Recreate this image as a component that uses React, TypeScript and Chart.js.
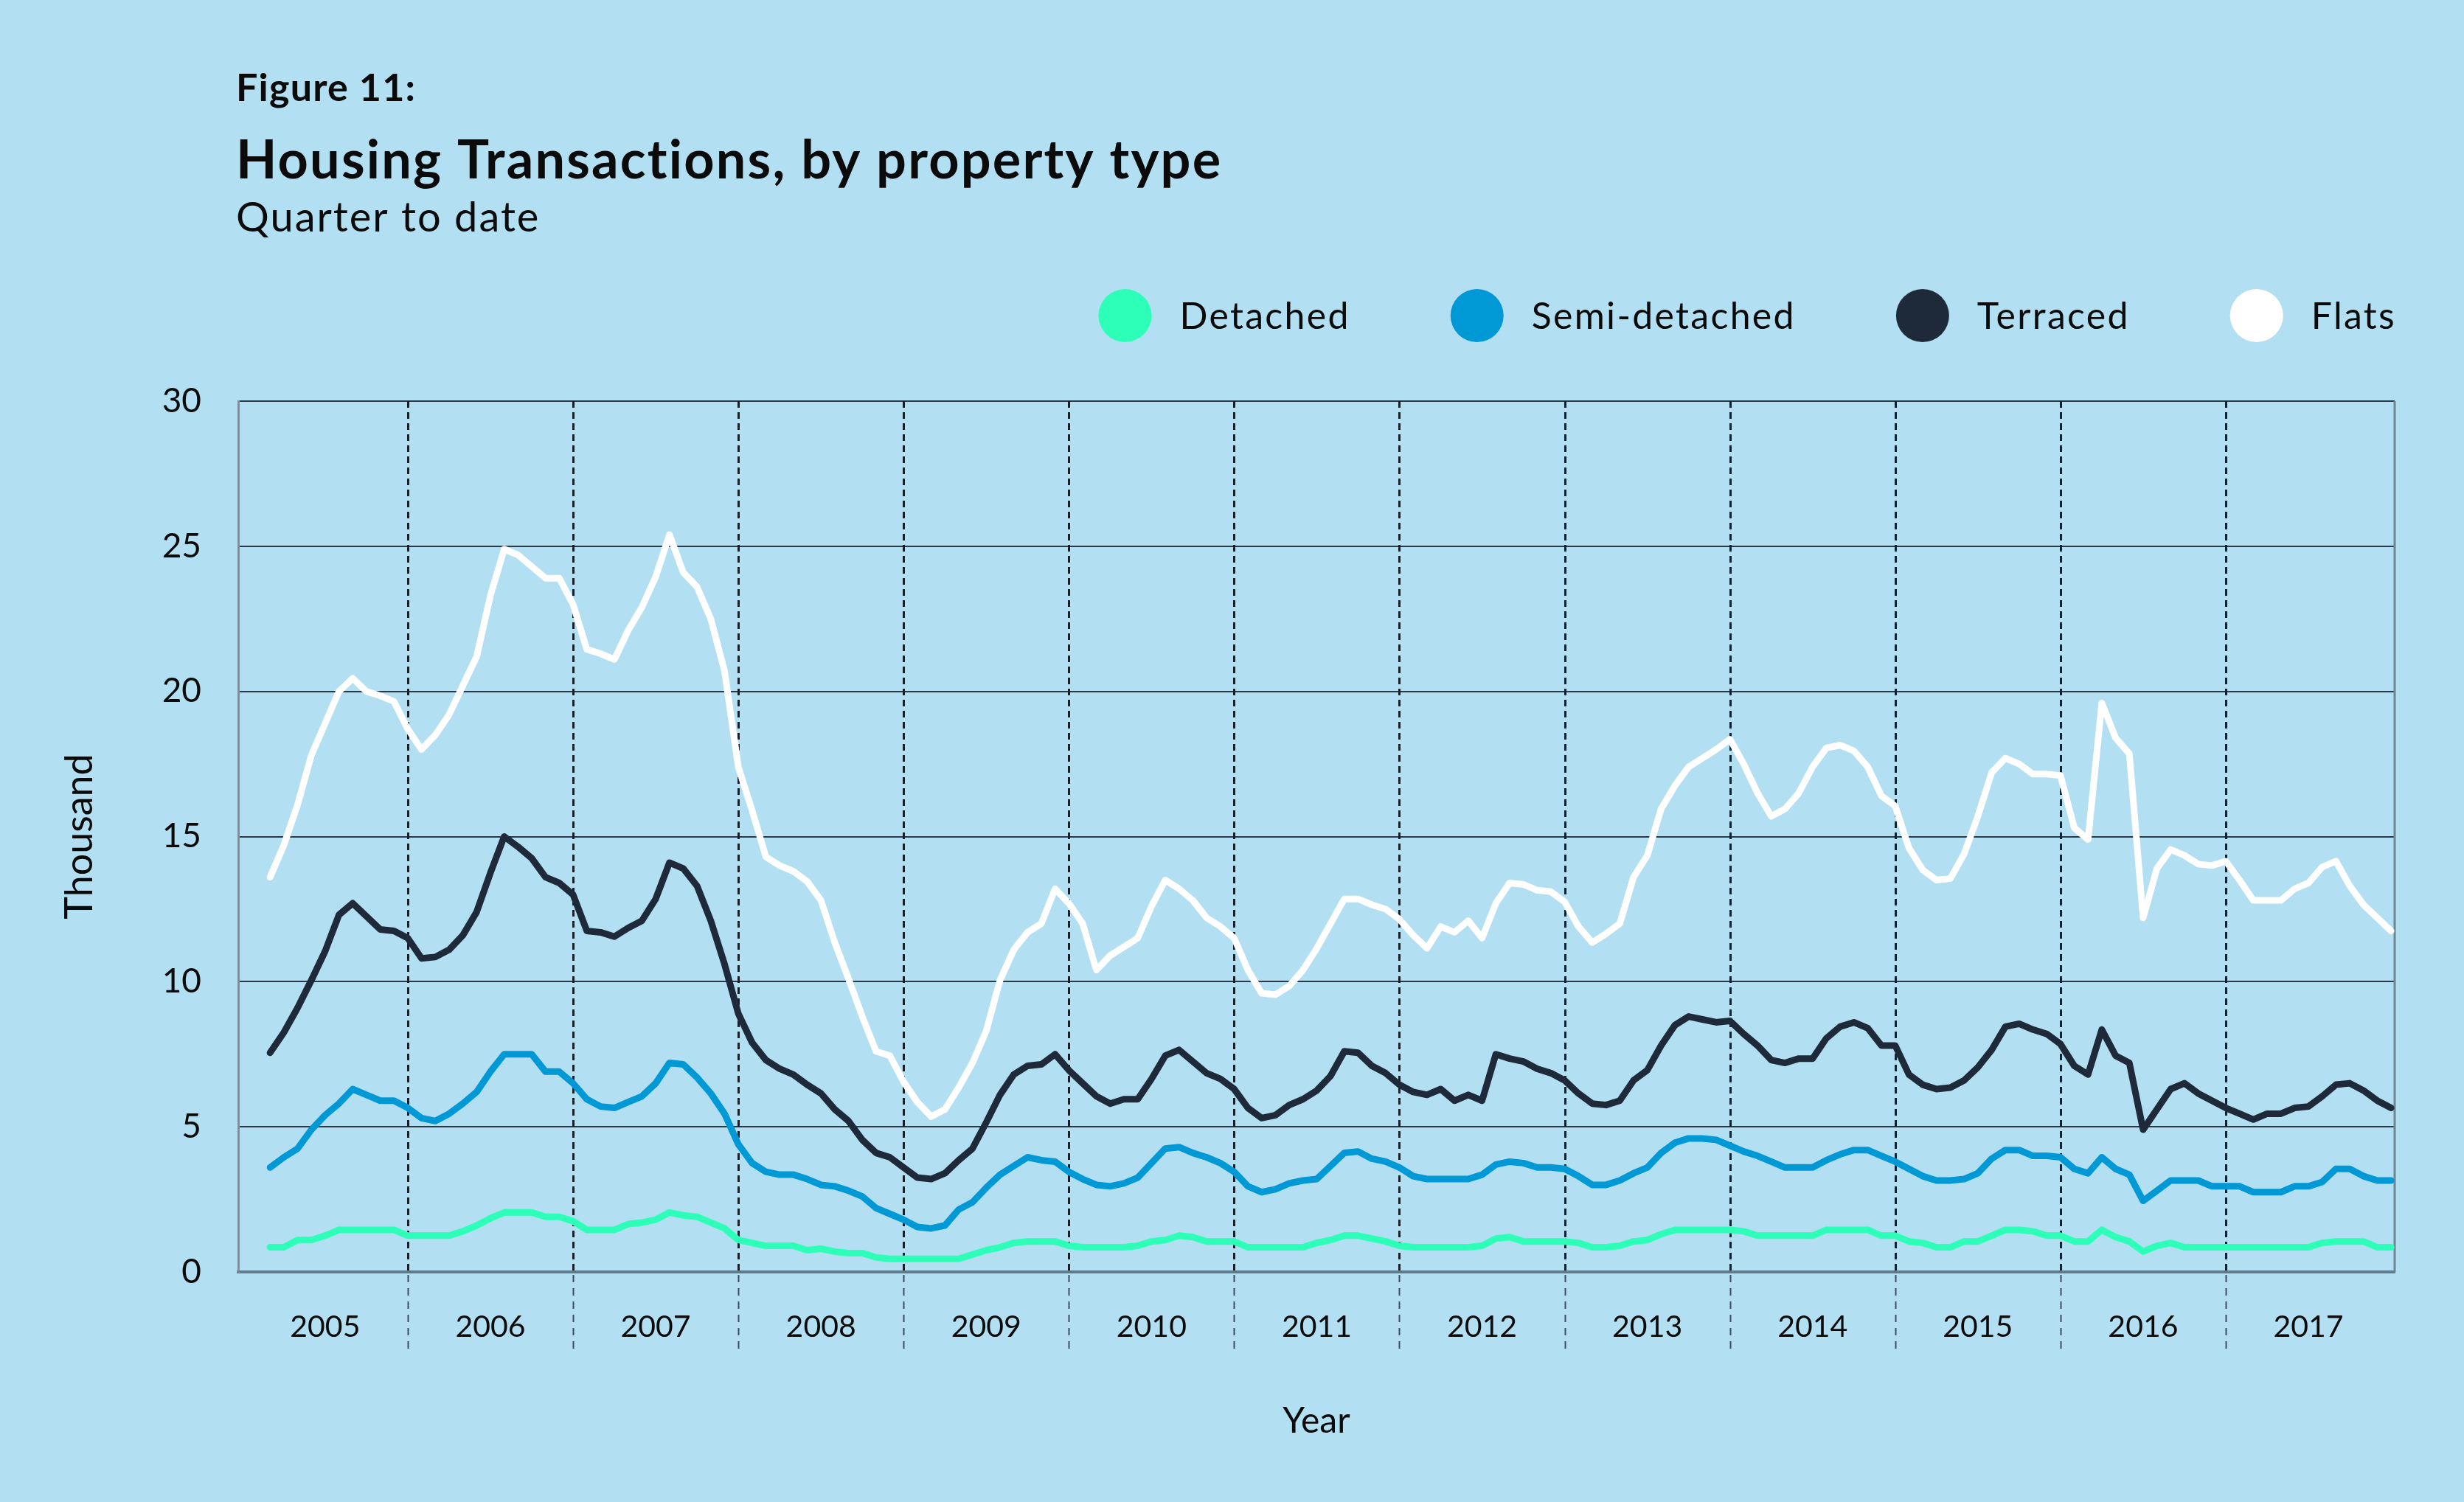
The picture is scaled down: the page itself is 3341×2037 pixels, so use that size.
import React, { useEffect, useRef } from "react";
import { Chart, registerables } from "chart.js";

Chart.register(...registerables);

// ---------- data ----------
const FIRST_MONTH = 2005 + 2 / 12; // March 2005, monthly observations
const YEARS = [2005, 2006, 2007, 2008, 2009, 2010, 2011, 2012, 2013, 2014, 2015, 2016, 2017];
const Y_MIN = 0;
const Y_MAX = 30;
const Y_STEP = 5;

const SERIES_NAMES = ["Detached", "Semi-detached", "Terraced", "Flats"];

const DETACHED = [
  0.85, 0.85, 1.1, 1.1, 1.25, 1.45, 1.45, 1.45, 1.45, 1.45,
  1.25, 1.25, 1.25, 1.25, 1.4, 1.6, 1.85, 2.05, 2.05, 2.05,
  1.9, 1.9, 1.75, 1.45, 1.45, 1.45, 1.65, 1.7, 1.8, 2.05,
  1.95, 1.9, 1.7, 1.5, 1.1, 1.0, 0.9, 0.9, 0.9, 0.75,
  0.8, 0.7, 0.65, 0.65, 0.5, 0.45, 0.45, 0.45, 0.45, 0.45,
  0.45, 0.6, 0.75, 0.85, 1.0, 1.05, 1.05,
  1.05, 0.9, 0.85, 0.85, 0.85, 0.85, 0.9, 1.05, 1.1, 1.25, 1.2, 1.05, 1.05, 1.05, 0.85, 0.85, 0.85, 0.85, 0.85, 1.0, 1.1,
  1.25, 1.25, 1.15, 1.05, 0.9, 0.85, 0.85, 0.85, 0.85, 0.85,
  0.9, 1.15, 1.2, 1.05, 1.05, 1.05, 1.05, 1.0, 0.85, 0.85,
  0.9, 1.05, 1.1, 1.3, 1.45, 1.45, 1.45,
  1.45, 1.45, 1.4, 1.25, 1.25, 1.25, 1.25, 1.25, 1.45, 1.45,
  1.45, 1.45, 1.25, 1.25, 1.05, 1.0, 0.85, 0.85, 1.05, 1.05,
  1.25, 1.45, 1.45, 1.4, 1.25, 1.25, 1.05,
  1.05, 1.45, 1.2, 1.05, 0.7, 0.9, 1.0, 0.85, 0.85, 0.85,
  0.85, 0.85, 0.85, 0.85, 0.85, 0.85, 0.85, 1.0, 1.05, 1.05, 1.05, 0.85, 0.85,
];

const SEMI_DETACHED = [
  3.6, 3.95, 4.25, 4.9, 5.4, 5.8, 6.3, 6.1, 5.9, 5.9,
  5.65, 5.3, 5.2, 5.45, 5.8, 6.2, 6.9, 7.5, 7.5, 7.5,
  6.9, 6.9, 6.5, 5.95, 5.7, 5.65, 5.85, 6.05, 6.5, 7.2,
  7.15, 6.7, 6.15, 5.45, 4.4, 3.75, 3.45, 3.35, 3.35, 3.2,
  3.0, 2.95, 2.8, 2.6, 2.2, 2.0, 1.8, 1.55, 1.5, 1.6,
  2.15, 2.4, 2.9, 3.35, 3.65, 3.95, 3.85,
  3.8, 3.45, 3.2, 3.0, 2.95, 3.05, 3.25, 3.75, 4.25, 4.3, 4.1, 3.95, 3.75, 3.45, 2.95, 2.75, 2.85, 3.05, 3.15, 3.2, 3.65,
  4.1, 4.15, 3.9, 3.8, 3.6, 3.3, 3.2, 3.2, 3.2, 3.2,
  3.35, 3.7, 3.8, 3.75, 3.6, 3.6, 3.55, 3.3, 3.0, 3.0,
  3.15, 3.4, 3.6, 4.1, 4.45, 4.6, 4.6,
  4.55, 4.35, 4.15, 4.0, 3.8, 3.6, 3.6, 3.6, 3.85, 4.05,
  4.2, 4.2, 4.0, 3.8, 3.55, 3.3, 3.15, 3.15, 3.2, 3.4,
  3.9, 4.2, 4.2, 4.0, 4.0, 3.95, 3.55,
  3.4, 3.95, 3.55, 3.35, 2.45, 2.8, 3.15, 3.15, 3.15, 2.95,
  2.95, 2.95, 2.75, 2.75, 2.75, 2.95, 2.95, 3.1, 3.55, 3.55, 3.3, 3.15, 3.15,
];

const TERRACED = [
  7.55, 8.25, 9.1, 10.05, 11.05, 12.3, 12.7, 12.25, 11.8, 11.75,
  11.5, 10.8, 10.85, 11.1, 11.6, 12.4, 13.75, 15.0, 14.65, 14.25,
  13.6, 13.4, 13.0, 11.75, 11.7, 11.55, 11.85, 12.1, 12.85, 14.1,
  13.9, 13.3, 12.1, 10.6, 8.9, 7.9, 7.3, 7.0, 6.8, 6.45,
  6.15, 5.6, 5.2, 4.55, 4.1, 3.95, 3.6, 3.25, 3.2, 3.4,
  3.85, 4.25, 5.15, 6.1, 6.8, 7.1, 7.15,
  7.5, 6.95, 6.5, 6.05, 5.8, 5.95, 5.95, 6.65, 7.45, 7.65, 7.25, 6.85, 6.65, 6.3, 5.65, 5.3, 5.4, 5.75, 5.95, 6.25, 6.75,
  7.6, 7.55, 7.1, 6.85, 6.45, 6.2, 6.1, 6.3, 5.9, 6.1,
  5.9, 7.5, 7.35, 7.25, 7.0, 6.85, 6.6, 6.15, 5.8, 5.75,
  5.9, 6.6, 6.95, 7.8, 8.5, 8.8, 8.7,
  8.6, 8.65, 8.2, 7.8, 7.3, 7.2, 7.35, 7.35, 8.05, 8.45,
  8.6, 8.4, 7.8, 7.8, 6.8, 6.45, 6.3, 6.35, 6.6, 7.05,
  7.65, 8.45, 8.55, 8.35, 8.2, 7.85, 7.1,
  6.8, 8.35, 7.45, 7.2, 4.9, 5.6, 6.3, 6.5, 6.15, 5.9,
  5.65, 5.45, 5.25, 5.45, 5.45, 5.65, 5.7, 6.05, 6.45, 6.5, 6.25, 5.9, 5.65,
];

const FLATS = [
  13.6, 14.7, 16.1, 17.8, 18.9, 20.0, 20.45, 20.0, 19.85, 19.65,
  18.7, 18.0, 18.5, 19.2, 20.2, 21.2, 23.3, 24.9, 24.7, 24.3,
  23.9, 23.9, 23.0, 21.45, 21.3, 21.1, 22.1, 22.9, 23.95, 25.4,
  24.1, 23.6, 22.5, 20.7, 17.4, 15.9, 14.3, 14.0, 13.8, 13.45,
  12.8, 11.35, 10.1, 8.8, 7.6, 7.45, 6.55, 5.85, 5.35, 5.6,
  6.35, 7.2, 8.3, 10.05, 11.1, 11.7, 12.0,
  13.2, 12.7, 12.0, 10.4, 10.9, 11.2, 11.5, 12.6, 13.5, 13.2, 12.8, 12.2, 11.9, 11.5, 10.4, 9.6, 9.55, 9.85, 10.4, 11.15, 12.0,
  12.85, 12.85, 12.65, 12.5, 12.15, 11.6, 11.15, 11.9, 11.7, 12.1,
  11.5, 12.7, 13.4, 13.35, 13.15, 13.1, 12.75, 11.9, 11.35, 11.65,
  12.0, 13.6, 14.35, 15.95, 16.75, 17.4, 17.7,
  18.0, 18.35, 17.5, 16.5, 15.7, 15.95, 16.5, 17.4, 18.05, 18.15,
  17.95, 17.4, 16.4, 16.05, 14.6, 13.85, 13.5, 13.55, 14.4, 15.7,
  17.2, 17.7, 17.5, 17.15, 17.15, 17.1, 15.3,
  14.9, 19.6, 18.4, 17.85, 12.2, 13.9, 14.55, 14.35, 14.05, 14.0,
  14.15, 13.5, 12.8, 12.8, 12.8, 13.2, 13.4, 13.95, 14.15, 13.3, 12.65, 12.2, 11.75,
];

const SERIES_VALUES = [DETACHED, SEMI_DETACHED, TERRACED, FLATS];

// ---------- text ----------
const FIGURE_LABEL = "Figure 11:";
const TITLE = "Housing Transactions, by property type";
const SUBTITLE = "Quarter to date";
const X_TITLE = "Year";
const Y_TITLE = "Thousand";

// ---------- styles ----------
const FONT = "Lato, 'Open Sans', sans-serif";
const BG = "#b3dff2";
const COLORS = ["#2dffb8", "#0098d5", "#1e2a3a", "#ffffff"];
const TEXT = "#0b0b0b";

function setSpacing(ctx: any, px: number) {
  if ("letterSpacing" in ctx) ctx.letterSpacing = `${px}px`;
}

const headerPlugin = {
  id: "header",
  afterDraw(chart: any) {
    const ctx = chart.ctx as CanvasRenderingContext2D;
    const area = chart.chartArea;
    ctx.save();
    ctx.fillStyle = TEXT;
    ctx.textAlign = "left";
    ctx.textBaseline = "alphabetic";
    ctx.font = `bold 52px ${FONT}`;
    setSpacing(ctx, 1.2);
    ctx.fillText(FIGURE_LABEL, 320, 137);
    ctx.font = `bold 72px ${FONT}`;
    setSpacing(ctx, 2.2);
    ctx.fillText(TITLE, 320, 242);
    ctx.font = `56px ${FONT}`;
    setSpacing(ctx, 2);
    ctx.fillText(SUBTITLE, 320, 314);

    // legend, right aligned to the plot's right edge
    ctx.font = `50px ${FONT}`;
    setSpacing(ctx, 2.3);
    ctx.textBaseline = "middle";
    const cy = 428;
    let right = area.right + 2;
    for (let k = SERIES_NAMES.length - 1; k >= 0; k--) {
      const name = SERIES_NAMES[k];
      const w = ctx.measureText(name).width;
      const tx = right - w;
      ctx.fillStyle = TEXT;
      ctx.fillText(name, tx, cy + 2);
      const cx = tx - 74;
      ctx.beginPath();
      ctx.arc(cx, cy, 36, 0, Math.PI * 2);
      ctx.fillStyle = COLORS[k];
      ctx.fill();
      right = cx - 36 - 136;
    }
    ctx.restore();
  },
};

const framePlugin = {
  id: "frame",
  beforeDatasetsDraw(chart: any) {
    const ctx = chart.ctx as CanvasRenderingContext2D;
    const area = chart.chartArea;
    const xs = chart.scales.x;
    ctx.save();
    // right border
    ctx.strokeStyle = "#6f8795";
    ctx.lineWidth = 3;
    ctx.beginPath();
    ctx.moveTo(area.right, area.top);
    ctx.lineTo(area.right, area.bottom);
    ctx.stroke();
    // dashed year separators
    ctx.strokeStyle = "#16202c";
    ctx.lineWidth = 3;
    ctx.setLineDash([9, 6]);
    for (let k = 1; k < YEARS.length; k++) {
      const px = Math.round(xs.getPixelForValue(YEARS[k])) + 0.5;
      ctx.beginPath();
      ctx.moveTo(px, area.top);
      ctx.lineTo(px, area.bottom);
      ctx.stroke();
    }
    ctx.strokeStyle = "#3c4e5c";
    ctx.lineWidth = 2;
    ctx.setLineDash([10, 8]);
    for (let k = 1; k < YEARS.length; k++) {
      const px = Math.round(xs.getPixelForValue(YEARS[k])) + 0.5;
      ctx.beginPath();
      ctx.moveTo(px, area.bottom + 4);
      ctx.lineTo(px, area.bottom + 112);
      ctx.stroke();
    }
    ctx.restore();
  },
};

export default function App() {
  const canvasRef = useRef<HTMLCanvasElement | null>(null);

  useEffect(() => {
    document.body.style.margin = "0";
    const canvas = canvasRef.current;
    if (!canvas) return;

    const datasets = SERIES_NAMES.map((name, k) => ({
      label: name,
      data: SERIES_VALUES[k].map((v, i) => ({ x: FIRST_MONTH + i / 12, y: v })),
      borderColor: COLORS[k],
      backgroundColor: COLORS[k],
      borderWidth: 9,
      pointRadius: 0,
      pointHoverRadius: 0,
      tension: 0,
      fill: false,
      borderJoinStyle: "round" as const,
      borderCapStyle: "round" as const,
    }));

    const chart = new Chart(canvas, {
      type: "line",
      data: { datasets },
      options: {
        animation: false,
        responsive: true,
        maintainAspectRatio: false,
        layout: { padding: { top: 544, right: 94, bottom: 0, left: 0 } },
        plugins: {
          legend: { display: false },
          tooltip: { enabled: false },
          title: { display: false },
        },
        scales: {
          x: {
            type: "linear",
            min: 2004.974,
            max: 2018.022,
            afterBuildTicks: (scale: any) => {
              scale.ticks = YEARS.map((y) => ({ value: y + 0.5 }));
            },
            afterFit: (scale: any) => {
              scale.height = 312;
            },
            ticks: {
              autoSkip: false,
              maxRotation: 0,
              minRotation: 0,
              padding: 50,
              color: TEXT,
              font: { family: FONT, size: 41 },
              callback: (v: any) => String(Math.floor(Number(v))),
            },
            grid: { display: false, drawTicks: false },
            border: { display: true, color: "#5f7b8c", width: 4 },
            title: {
              display: true,
              text: X_TITLE,
              color: TEXT,
              font: { family: FONT, size: 48 },
              padding: { top: 0, bottom: 81 },
            },
          },
          y: {
            type: "linear",
            min: Y_MIN,
            max: Y_MAX,
            afterFit: (scale: any) => {
              scale.width = 323;
            },
            ticks: {
              stepSize: Y_STEP,
              padding: 50,
              color: TEXT,
              font: { family: FONT, size: 46 },
            },
            grid: { color: "#2b3846", lineWidth: 2, drawTicks: false },
            border: { display: true, color: "#7b8f9c", width: 3 },
            title: {
              display: true,
              text: Y_TITLE,
              color: TEXT,
              font: { family: FONT, size: 52 },
              padding: { top: 77, bottom: 0 },
            },
          },
        },
      },
      plugins: [framePlugin, headerPlugin],
    });

    return () => {
      chart.destroy();
    };
  }, []);

  return (
    <div style={{ position: "fixed", inset: 0, background: BG }}>
      <canvas ref={canvasRef} />
    </div>
  );
}
